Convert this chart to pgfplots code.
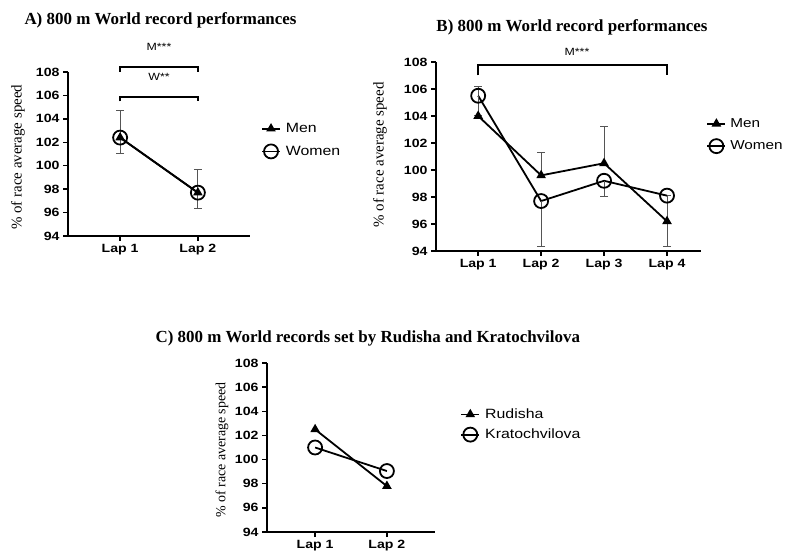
\documentclass[border=0pt]{standalone}
\usepackage{pgfplots}
\pgfplotsset{compat=1.18}
\usepackage{pgfplotstable}
\usepackage{fontspec}
\setmainfont{Liberation Serif}
\newfontfamily\arial[FakeStretch=1.18]{Liberation Sans}

% panel A
\pgfplotstableread{
x y e
1 102.4 2.3
2 97.7 2.0
}\menA
\pgfplotstableread{
x y e
1 102.4 1.4
2 97.7 1.35
}\womenA
% panel B
\pgfplotstableread{
x y e
1 104.0 2.2
2 99.6 1.7
3 100.5 2.7
4 96.2 1.9
}\menB
\pgfplotstableread{
x y e
1 105.5 1.5
2 97.7 3.4
3 99.2 1.2
4 98.1 3.8
}\womenB
% panel C
\pgfplotstableread{
x y
1 102.5
2 97.8
}\rudisha
\pgfplotstableread{
x y
1 101.0
2 99.05
}\kratoch

\definecolor{errgray}{HTML}{555555}

\pgfplotsset{
  prism/.style={
    scale only axis,
    axis lines=left,
    axis line style={line width=2bp, -},
    ymin=94, ymax=108, ytick={94,96,...,108},
    tick style={line width=1.5bp, black},
    tick align=outside, major tick length=5bp,
    tick label style={font=\arial\bfseries\fontsize{12}{14}\selectfont},
    /pgf/number format/assume math mode=true,
    xtick={1,2,3,4}, xticklabels={Lap 1,Lap 2,Lap 3,Lap 4},
    ylabel={\% of race average speed},
    clip=false,
    legend cell align=left,
    legend image code/.code={
      \draw[mark repeat=2, mark phase=2] plot coordinates {(0bp,0bp) (9bp,0bp) (18bp,0bp)};},
    legend style={draw=none, fill=none, anchor=west, inner xsep=0pt, inner ysep=0pt,
      font=\arial\fontsize{13.5}{16}\selectfont, row sep=8bp},
  },
  menline/.style={black, line width=1.8bp, mark=triangle*, mark size=3.8bp,
    mark options={solid, fill=black}},
  womenline/.style={black, line width=1.8bp, mark=o, mark size=7bp,
    mark options={solid, fill=none}},
  errs/.style={error bars/.cd, y dir=#1, y explicit,
    error bar style={draw=errgray, line width=1bp},
    error mark options={rotate=90, mark size=4bp, draw=errgray, line width=1bp}},
}

\begin{document}
\begin{tikzpicture}
\useasboundingbox (0bp,0bp) rectangle (793bp,557bp);

% titles
\node[anchor=west, font=\bfseries\fontsize{17}{20}\selectfont] at (21bp,537bp) {A) 800 m World record performances};
\node[anchor=center, font=\bfseries\fontsize{17}{20}\selectfont] at (572bp,530bp) {B) 800 m World record performances};
\node[anchor=west, font=\bfseries\fontsize{17}{20}\selectfont] at (152bp,219bp) {C) 800 m World records set by Rudisha and Kratochvilova};

% ---------- A ----------
\begin{axis}[prism, at={(68bp,321bp)}, anchor=south west,
  width=182bp, height=164bp, xmin=0.33, xmax=2.67,
  ylabel style={at={(axis description cs:-0.275,0.48)}, anchor=center,
    font=\fontsize{15}{17}\selectfont},
  legend style={at={(rel axis cs:1.06,0.585)}}]
\addplot[menline, errs=plus] table[x=x, y=y, y error=e] {\menA};
\addlegendentry{\hspace*{3bp}Men}
\addplot[womenline, errs=minus] table[x=x, y=y, y error=e] {\womenA};
\addlegendentry{\hspace*{3bp}Women}
\draw[line width=2bp] (axis cs:1,108.0) -- (axis cs:1,108.4) -- (axis cs:2,108.4) -- (axis cs:2,108.0);
\draw[line width=2bp] (axis cs:1,105.5) -- (axis cs:1,105.9) -- (axis cs:2,105.9) -- (axis cs:2,105.5);
\node[font=\arial\fontsize{10.5}{12}\selectfont] at (axis cs:1.5,110.1) {M***};
\node[font=\arial\fontsize{10.5}{12}\selectfont] at (axis cs:1.5,107.6) {W**};
\end{axis}

% ---------- B ----------
\begin{axis}[prism, at={(436bp,306bp)}, anchor=south west,
  width=265bp, height=189bp, xmin=0.33, xmax=4.54,
  ylabel style={at={(axis description cs:-0.211,0.508)}, anchor=center,
    font=\fontsize{15}{17}\selectfont},
  legend style={at={(rel axis cs:1.02,0.614)}, font=\arial\fontsize{13}{16}\selectfont}]
\addplot[menline, errs=plus] table[x=x, y=y, y error=e] {\menB};
\addlegendentry{\hspace*{2bp}Men}
\addplot[womenline, errs=minus] table[x=x, y=y, y error=e] {\womenB};
\addlegendentry{\hspace*{2bp}Women}
\draw[line width=2bp] (axis cs:1,107.0) -- (axis cs:1,107.78) -- (axis cs:4,107.78) -- (axis cs:4,107.0);
\node[font=\arial\fontsize{10.5}{12}\selectfont] at (axis cs:2.57,108.75) {M***};
\end{axis}

% ---------- C ----------
\begin{axis}[prism, at={(267bp,25bp)}, anchor=south west,
  width=168bp, height=169bp, xmin=0.33, xmax=2.67,
  ylabel style={at={(axis description cs:-0.268,0.485)}, anchor=center,
    font=\fontsize{14}{16}\selectfont},
  legend style={at={(rel axis cs:1.15,0.636)}, row sep=5bp}]
\addplot[menline] table[x=x, y=y] {\rudisha};
\addlegendentry{\hspace*{3bp}Rudisha}
\addplot[womenline] table[x=x, y=y] {\kratoch};
\addlegendentry{\hspace*{3bp}Kratochvilova}
\end{axis}
\end{tikzpicture}
\end{document}
